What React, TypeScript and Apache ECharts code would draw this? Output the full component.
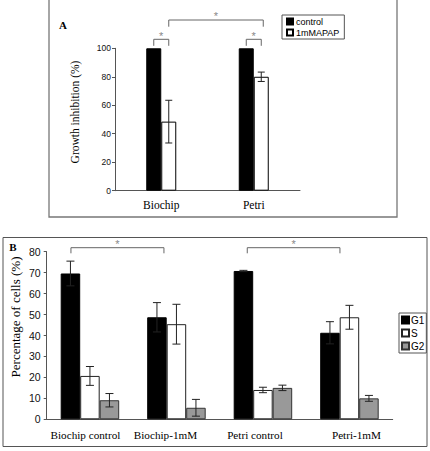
import { useEffect, useRef } from 'react';
import * as echarts from 'echarts';

// ---- Panel A data ----
const catsA = ['Biochip', 'Petri'];
const controlA = [100, 100];
const controlErrA = [0, 0];
const apapA = [48.5, 80];
const apapErrA = [15, 3.3];
const legendA = ['control', '1mMAPAP'];

// ---- Panel B data ----
const catsB = ['Biochip control', 'Biochip-1mM', 'Petri control', 'Petri-1mM'];
const g1B = [69.6, 48.7, 70.8, 41.3];
const g1ErrB = [5.9, 7.0, 0.3, 5.3];
const sB = [20.7, 45.4, 14.0, 48.7];
const sErrB = [4.5, 9.5, 1.3, 5.7];
const g2B = [9.1, 5.5, 15.0, 10.0];
const g2ErrB = [3.2, 4.0, 1.3, 1.4];
const legendB = ['G1', 'S', 'G2'];
// per-label horizontal shift of category text (as typeset in the original)
const labelShiftB = [-4.5, -11, -8, 7];

const BAR_A = 15;
const BAR_B = 19.5;
const SERIF = 'Liberation Serif, Times New Roman, serif';
const SANS = 'Liberation Sans, Arial, sans-serif';

function errSeries(vals: number[], errs: number[], axis: number, offset: number, cap: number) {
  return {
    type: 'custom',
    xAxisIndex: axis,
    yAxisIndex: axis,
    silent: true,
    z: 10,
    encode: { x: 0, y: [1, 2] },
    data: vals.map((v, i) => [i, v - errs[i], v + errs[i], errs[i]]),
    renderItem: (_p: any, api: any) => {
      if (!api.value(3)) return null;
      const i = api.value(0);
      const lo = api.coord([i, api.value(1)]);
      const hi = api.coord([i, api.value(2)]);
      const x = lo[0] + offset;
      const st = { stroke: '#222', lineWidth: 1 };
      return {
        type: 'group',
        children: [
          { type: 'line', shape: { x1: x, y1: lo[1], x2: x, y2: hi[1] }, style: st },
          { type: 'line', shape: { x1: x - cap, y1: hi[1], x2: x + cap, y2: hi[1] }, style: st },
          { type: 'line', shape: { x1: x - cap, y1: lo[1], x2: x + cap, y2: lo[1] }, style: st },
        ],
      };
    },
  };
}

const axisLineStyle = { color: '#555', width: 1 };

export default function App() {
  const ref = useRef<HTMLDivElement>(null);
  useEffect(() => {
    if (!ref.current) return;
    const chart = echarts.init(ref.current, undefined, { renderer: 'svg' });
    const barBase = (name: string, data: number[], axis: number, color: string, border: string, w: number) => ({
      name,
      type: 'bar',
      xAxisIndex: axis,
      yAxisIndex: axis,
      data,
      barWidth: w,
      barGap: '0%',
      itemStyle: { color, borderColor: border, borderWidth: 1 },
    });
    const option: any = {
      animation: false,
      backgroundColor: '#fff',
      grid: [
        { left: 115, top: 48.3, width: 185, height: 142.4 },
        { left: 46.7, top: 251.7, width: 346, height: 167.6 },
      ],
      legend: [
        {
          data: legendA,
          orient: 'vertical',
          left: 282,
          top: 15,
          icon: 'rect',
          itemWidth: 6,
          itemHeight: 6,
          itemGap: 2,
          padding: [2, 5, 2, 4],
          borderColor: '#555',
          borderWidth: 1,
          selectedMode: false,
          textStyle: { fontFamily: SANS, fontSize: 9, color: '#000', padding: [0, 0, 0, -2] },
        },
        {
          data: legendB,
          orient: 'vertical',
          left: 399,
          top: 313,
          icon: 'rect',
          itemWidth: 7,
          itemHeight: 7,
          itemGap: 3,
          padding: [2, 2, 2, 2],
          borderColor: '#555',
          borderWidth: 1,
          selectedMode: false,
          textStyle: { fontFamily: SANS, fontSize: 10, color: '#000', padding: [0, 0, 0, -3] },
        },
      ],
      xAxis: [
        {
          type: 'category',
          gridIndex: 0,
          data: catsA,
          axisLine: { lineStyle: axisLineStyle },
          axisTick: { length: 3, lineStyle: axisLineStyle },
          axisLabel: { fontFamily: SERIF, fontSize: 11.5, color: '#000', margin: 8 },
        },
        {
          type: 'category',
          gridIndex: 1,
          data: catsB.map((c, i) => ({
            value: c,
            textStyle: {
              padding: labelShiftB[i] < 0 ? [0, -2 * labelShiftB[i], 0, 0] : [0, 0, 0, 2 * labelShiftB[i]],
            },
          })),
          axisLine: { lineStyle: axisLineStyle },
          axisTick: { length: 3, lineStyle: axisLineStyle },
          axisLabel: { fontFamily: SERIF, fontSize: 11.2, color: '#000', margin: 10, interval: 0 },
        },
      ],
      yAxis: [
        {
          type: 'value',
          gridIndex: 0,
          min: 0,
          max: 100,
          interval: 20,
          splitLine: { show: false },
          axisLine: { show: true, lineStyle: axisLineStyle },
          axisTick: { show: true, length: 3, lineStyle: axisLineStyle },
          axisLabel: { fontFamily: SANS, fontSize: 8.5, color: '#111', margin: 4 },
        },
        {
          type: 'value',
          gridIndex: 1,
          min: 0,
          max: 80,
          interval: 10,
          splitLine: { show: false },
          axisLine: { show: true, lineStyle: axisLineStyle },
          axisTick: { show: true, length: 3, lineStyle: axisLineStyle },
          axisLabel: { fontFamily: SANS, fontSize: 10.5, color: '#111', margin: 6 },
        },
      ],
      series: [
        barBase('control', controlA, 0, '#000', '#000', BAR_A),
        barBase('1mMAPAP', apapA, 0, '#fff', '#000', BAR_A),
        barBase('G1', g1B, 1, '#000', '#000', BAR_B),
        barBase('S', sB, 1, '#fff', '#222', BAR_B),
        barBase('G2', g2B, 1, '#999', '#333', BAR_B),
        errSeries(controlA, controlErrA, 0, -BAR_A / 2, 3.5),
        errSeries(apapA, apapErrA, 0, BAR_A / 2, 3.5),
        errSeries(g1B, g1ErrB, 1, -BAR_B, 4),
        errSeries(sB, sErrB, 1, 0, 4),
        errSeries(g2B, g2ErrB, 1, BAR_B, 4),
      ],
    };
    chart.setOption(option);

    // annotations placed from the axes' own scales
    const pA = (i: number, v: number) => chart.convertToPixel({ gridIndex: 0 }, [i, v]) as number[];
    const pB = (i: number, v: number) => chart.convertToPixel({ gridIndex: 1 }, [i, v]) as number[];
    const bracket = (x1: number, x2: number, top: number, leg: number) => ({
      type: 'polyline',
      shape: { points: [[x1, leg], [x1, top], [x2, top], [x2, leg]] },
      style: { stroke: '#666', lineWidth: 1, fill: null },
      silent: true,
    });
    const star = (x: number, y: number) => ({
      type: 'text',
      x,
      y,
      style: {
        text: '*',
        fill: '#888',
        fontSize: 11,
        fontFamily: SANS,
        align: 'center',
        verticalAlign: 'middle',
        textAlign: 'center',
        textVerticalAlign: 'middle',
      },
      silent: true,
    });
    const a0 = pA(0, 100);
    const a1 = pA(1, 100);
    const y100 = a0[1];
    const bc0 = a0[0] - BAR_A / 2, bw0 = a0[0] + BAR_A / 2;
    const bc1 = a1[0] - BAR_A / 2, bw1 = a1[0] + BAR_A / 2;
    const b0 = pB(0, 80), b1 = pB(1, 80), b2 = pB(2, 80), b3 = pB(3, 80);
    const y80 = b0[1];

    const graphics: any[] = [
      // panel borders
      {
        type: 'polyline',
        shape: { points: [[49, -2], [49, 217], [397, 217], [397, -2]] },
        style: { stroke: '#777', lineWidth: 1.3, fill: null },
        silent: true,
      },
      {
        type: 'rect',
        shape: { x: 3, y: 237.5, width: 424, height: 209 },
        style: { stroke: '#555', lineWidth: 1, fill: null },
        silent: true,
      },
      // panel letters
      {
        type: 'text', x: 63, y: 25,
        style: { text: 'A', fontFamily: SERIF, fontWeight: 'bold', fontSize: 11, fill: '#000', align: 'center', verticalAlign: 'middle', textAlign: 'center', textVerticalAlign: 'middle' },
      },
      {
        type: 'text', x: 13, y: 247,
        style: { text: 'B', fontFamily: SERIF, fontWeight: 'bold', fontSize: 11, fill: '#000', align: 'center', verticalAlign: 'middle', textAlign: 'center', textVerticalAlign: 'middle' },
      },
      // y-axis titles
      {
        type: 'text', x: 75, y: 112, rotation: Math.PI / 2,
        style: { text: 'Growth inhibition (%)', fontFamily: SERIF, fontSize: 11.5, fill: '#000', align: 'center', verticalAlign: 'middle', textAlign: 'center', textVerticalAlign: 'middle' },
      },
      {
        type: 'text', x: 15, y: 317, rotation: Math.PI / 2,
        style: { text: 'Percentage of cells (%)', fontFamily: SERIF, fontSize: 13, fill: '#000', align: 'center', verticalAlign: 'middle', textAlign: 'center', textVerticalAlign: 'middle' },
      },
      // panel A significance
      bracket(bc0, bw0, y100 - 9, y100 - 2.5),
      star((bc0 + bw0) / 2, y100 - 12),
      bracket(bc1, bw1, y100 - 9, y100 - 2.5),
      star((bc1 + bw1) / 2, y100 - 12),
      bracket(bw0, bw1 + 2, y100 - 28.3, y100 - 21.6),
      star((bw0 + bw1 + 2) / 2, y100 - 32),
      // panel B significance
      bracket(b0[0] - 19, b1[0] - 12.5, y80 - 4, y80 + 1.6),
      star((b0[0] - 19 + b1[0] - 12.5) / 2, y80 - 7.5),
      bracket(b2[0] - 15.7, b3[0] - 9.5, y80 - 4, y80 + 1.6),
      star((b2[0] - 15.7 + b3[0] - 9.5) / 2, y80 - 7.5),
    ];
    chart.setOption({ graphic: { elements: graphics } });
    return () => chart.dispose();
  }, []);
  return (
    <div
      ref={ref}
      style={{ position: 'absolute', left: 0, top: 0, width: 430, height: 451, background: '#fff' }}
    />
  );
}
